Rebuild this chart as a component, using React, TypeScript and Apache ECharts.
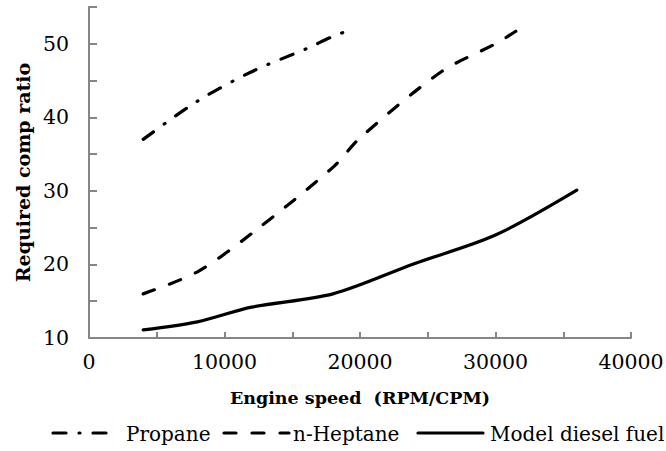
import React, { useEffect, useRef } from "react";
import * as echarts from "echarts";

const seriesNames = ["Propane", "n-Heptane", "Model diesel fuel"];

const propaneX = [4000, 8000, 12000, 16000, 18000, 19000];
const propaneY = [37, 42.2, 46.2, 49.3, 51, 51.7];

const heptaneX = [4000, 8000, 12000, 18000, 20000, 26000, 30000, 31500];
const heptaneY = [16, 19, 24.2, 33.2, 37.2, 46.2, 50, 51.7];

const dieselX = [4000, 8000, 12000, 18000, 24000, 30000, 36000];
const dieselY = [11.1, 12.2, 14.2, 16, 20.1, 24, 30.1];

const xTickLabels = [0, 10000, 20000, 30000, 40000];
const yTickLabels = [10, 20, 30, 40, 50];

const FONT = "DejaVu Serif";
const AXIS_COLOR = "#868686";

const dashes: (number[] | "solid")[] = [[13, 13, 1, 13], [12, 16], "solid"];

function pairs(xs: number[], ys: number[]) {
  return xs.map((x, i) => [x, ys[i]]);
}

export default function App() {
  const ref = useRef<HTMLDivElement>(null);
  useEffect(() => {
    if (!ref.current) return;
    const chart = echarts.init(ref.current, null, { renderer: "svg" });
    const data = [pairs(propaneX, propaneY), pairs(heptaneX, heptaneY), pairs(dieselX, dieselY)];

    const legendIcons = [
      { x1: 53, x2: 108, textX: 126 },
      { x1: 224, x2: 289, textX: 293 },
      { x1: 418, x2: 483, textX: 490 },
    ];
    const graphic: any[] = [];
    seriesNames.forEach((name, i) => {
      const li = legendIcons[i];
      graphic.push({
        type: "line",
        shape: { x1: li.x1, y1: 433, x2: li.x2, y2: 433 },
        style: {
          stroke: "#000",
          lineWidth: 3.2,
          lineCap: "round",
          lineDash: dashes[i] === "solid" ? null : dashes[i],
        },
        silent: true,
      });
      graphic.push({
        type: "text",
        x: li.textX,
        y: 434,
        style: {
          text: name,
          fontFamily: FONT,
          fontSize: 20,
          fill: "#000",
          verticalAlign: "middle",
        },
        silent: true,
      });
    });

    chart.setOption({
      animation: false,
      textStyle: { fontFamily: FONT },
      grid: { left: 89, right: 35, top: 7, bottom: 113, outerBoundsMode: "none", containLabel: false },
      xAxis: {
        type: "value",
        min: 0,
        max: 40000,
        interval: 5000,
        name: "Engine speed  (RPM/CPM)",
        nameLocation: "middle",
        nameGap: 51,
        nameTextStyle: { fontFamily: FONT, fontWeight: "bold", fontSize: 17.5, color: "#000" },
        axisLine: { lineStyle: { color: AXIS_COLOR, width: 2 } },
        axisTick: { inside: true, length: 6, lineStyle: { color: AXIS_COLOR, width: 2 } },
        splitLine: { show: false },
        axisLabel: {
          margin: 13,
          fontFamily: FONT,
          fontSize: 20.5,
          color: "#000",
          formatter: (v: number) => (xTickLabels.includes(v) ? String(v) : ""),
        },
      },
      yAxis: {
        type: "value",
        min: 10,
        max: 55,
        interval: 5,
        name: "Required comp ratio",
        nameLocation: "middle",
        nameGap: 57,
        nameRotate: 90,
        nameTextStyle: { fontFamily: FONT, fontWeight: "bold", fontSize: 19, color: "#000" },
        axisLine: { show: true, lineStyle: { color: AXIS_COLOR, width: 2 } },
        axisTick: { show: true, inside: true, length: 8, lineStyle: { color: AXIS_COLOR, width: 2 } },
        splitLine: { show: false },
        axisLabel: {
          margin: 20,
          fontFamily: FONT,
          fontSize: 20.5,
          color: "#000",
          formatter: (v: number) => (yTickLabels.includes(v) ? String(v) : ""),
        },
      },
      series: seriesNames.map((name, i) => ({
        name,
        type: "line",
        data: data[i],
        symbol: "none",
        smooth: 0.3,
        lineStyle: { color: "#000", width: 3.2, type: dashes[i], cap: "round", join: "round" },
      })),
      graphic,
    });
    return () => chart.dispose();
  }, []);
  return (
    <div
      ref={ref}
      style={{ position: "fixed", left: 0, top: 0, width: 666, height: 451, background: "#fff" }}
    />
  );
}
